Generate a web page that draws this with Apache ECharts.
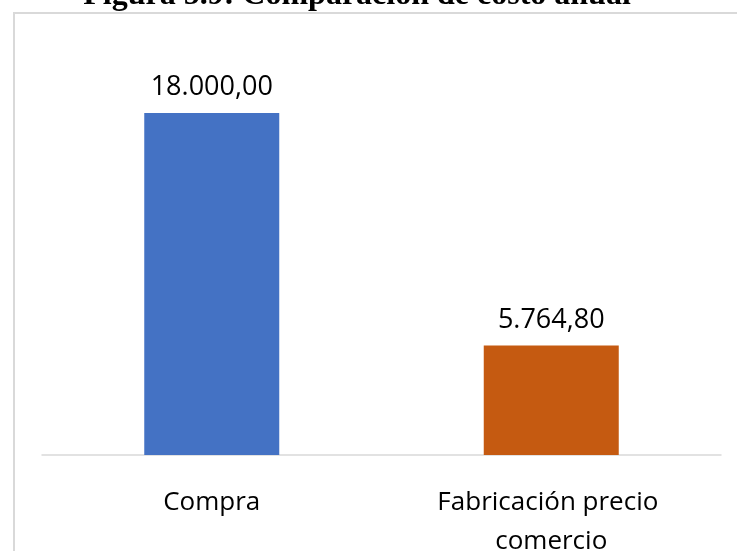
<!DOCTYPE html>
<html>
<head>
<meta charset="utf-8">
<script src="https://cdn.jsdelivr.net/npm/echarts@6/dist/echarts.min.js"></script>
<style>
html,body{margin:0;padding:0;background:#fff;}
#chart{width:737px;height:551px;}
</style>
</head>
<body>
<div id="chart"></div>
<script>
const titleText = 'Figura 5.9: Comparación de costo anual';
const categories = ['Compra', 'Fabricación precio comercio'];
const values = [18000.00, 5764.80];
const colors = ['#4472C4', '#C55A11'];

function fmtEs(v) {
  const parts = v.toFixed(2).split('.');
  const intPart = parts[0].replace(/\B(?=(\d{3})+(?!\d))/g, '.');
  return intPart + ',' + parts[1];
}

const chart = echarts.init(document.getElementById('chart'), null, {renderer: 'canvas'});
chart.setOption({
  backgroundColor: '#ffffff',
  animation: false,
  graphic: [
    {
      type: 'rect',
      shape: {x: 14, y: 13, width: 760, height: 600},
      style: {fill: 'none', stroke: '#d9d9d9', lineWidth: 2},
      z: -10
    },
    {
      type: 'text',
      x: 357,
      y: 12,
      style: {
        text: titleText,
        font: 'bold 32px "Liberation Serif", "Times New Roman", serif',
        fill: '#000',
        align: 'center',
        verticalAlign: 'bottom'
      }
    }
  ],
  grid: {left: 42, right: 16, top: 75, bottom: 96, containLabel: false, outerBoundsMode: 'none'},
  xAxis: {
    type: 'category',
    data: categories,
    axisLine: {show: true, lineStyle: {color: '#d9d9d9', width: 1.5}},
    axisTick: {show: false},
    axisLabel: {
      color: '#000',
      fontFamily: '"Open Sans", sans-serif',
      fontSize: 26,
      lineHeight: 39,
      margin: 28,
      width: 280,
      overflow: 'break',
      interval: 0
    }
  },
  yAxis: {
    type: 'value',
    min: 0,
    max: 20000,
    show: false,
    splitLine: {show: false}
  },
  series: [{
    type: 'bar',
    barWidth: 135,
    data: values.map((v, i) => ({value: v, itemStyle: {color: colors[i]}})),
    label: {
      show: true,
      position: 'top',
      distance: 12,
      color: '#000',
      fontFamily: '"Open Sans", sans-serif',
      fontSize: 27,
      formatter: p => fmtEs(p.value)
    }
  }]
});
</script>
</body>
</html>
